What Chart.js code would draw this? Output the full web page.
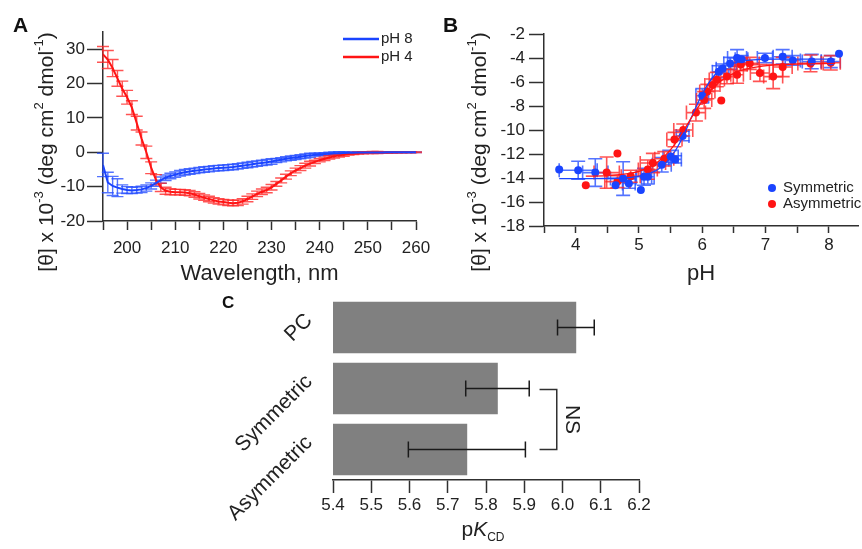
<!DOCTYPE html>
<html>
<head>
<meta charset="utf-8">
<script src="https://cdn.jsdelivr.net/npm/chart.js@4.4.1/dist/chart.umd.min.js"></script>
<style>
  body { margin: 0; background: #fff; }
  #quadro { position: relative; width: 862px; height: 549px; }
  canvas { position: absolute; }
</style>
</head>
<body>
<div id="quadro">
  <canvas id="chart-a" width="430" height="290" style="left:0;top:0"></canvas>
  <canvas id="chart-b" width="432" height="290" style="left:430px;top:0"></canvas>
  <canvas id="chart-c" width="460" height="259" style="left:200px;top:290px"></canvas>
</div>
<script>
// ---- painel A: espectros de CD ----
const comprimentos = [195,196,197,198,199,200,201,202,203,204,205,206,207,208,209,210,211,212,213,214,215,216,217,218,219,220,221,222,223,224,225,226,227,228,229,230,231,232,233,234,235,236,237,238,239,240,241,242,243,244,245,246,247,248,249,250,251,252,253,254,255,256,257,258,259,260];
const ph8 = [-3.7,-8.8,-9.8,-10.3,-10.7,-11.0,-11.1,-11.0,-10.8,-10.4,-9.8,-9.0,-8.1,-7.4,-6.9,-6.5,-6.1,-5.8,-5.6,-5.4,-5.2,-5.0,-4.9,-4.7,-4.6,-4.5,-4.4,-4.3,-4.1,-3.9,-3.7,-3.5,-3.3,-3.1,-2.9,-2.7,-2.4,-2.2,-1.9,-1.7,-1.5,-1.3,-1.1,-0.9,-0.7,-0.6,-0.5,-0.4,-0.3,-0.25,-0.2,-0.15,-0.12,-0.1,-0.08,-0.06,-0.05,-0.04,-0.03,-0.02,-0.02,-0.01,-0.01,0,0,0];
const ph8Erro = [3.4,3.0,2.8,2.6,1.2,1.0,0.9,0.9,0.9,0.9,0.9,0.9,0.9,0.8,0.8,0.8,0.8,0.8,0.8,0.8,0.8,0.8,0.8,0.8,0.8,0.8,0.8,0.8,0.8,0.8,0.8,0.8,0.8,0.8,0.8,0.8,0.6,0.6,0.6,0.6,0.6,0.6,0.6,0.6,0.4,0.4,0.4,0.4,0.4,0.4,0.4,0.2,0.2,0.2,0.2,0.2,0.2,0.2,0.1,0.1,0.1,0.1,0.1,0.1,0.1,0.1];
const ph4 = [28.5,27.0,24.5,21.5,18.5,16.0,13.0,8.5,4.0,0.0,-4.5,-8.0,-10.2,-11.2,-11.5,-11.6,-11.6,-11.7,-11.9,-12.3,-12.8,-13.2,-13.6,-14.0,-14.3,-14.5,-14.7,-14.8,-14.7,-14.3,-13.6,-12.9,-12.1,-11.5,-11.0,-10.2,-9.2,-8.2,-7.1,-6.1,-5.3,-4.6,-3.9,-3.3,-2.8,-2.3,-1.9,-1.5,-1.2,-0.9,-0.7,-0.5,-0.35,-0.25,-0.15,-0.1,-0.08,-0.06,-0.05,-0.04,-0.03,-0.02,-0.02,-0.01,0,0];
const ph4Erro = [2.3,2.6,2.5,2.3,2.2,2.0,2.0,2.0,1.9,1.8,1.7,1.5,1.2,1.0,0.9,0.8,0.8,0.8,0.8,0.8,0.8,0.8,0.8,0.8,0.8,0.8,0.8,0.8,0.8,0.8,0.8,0.8,0.8,0.8,0.8,0.8,0.7,0.7,0.7,0.7,0.7,0.7,0.7,0.7,0.5,0.5,0.5,0.5,0.5,0.5,0.5,0.3,0.3,0.3,0.3,0.3,0.3,0.3,0.1,0.1,0.1,0.1,0.1,0.1,0.1,0.1];

// ---- painel B: titulacao de pH ----
const simPH = [3.74,4.04,4.31,4.63,4.75,4.84,5.03,5.08,5.14,5.36,5.50,5.57,5.69,6.00,6.26,6.32,6.44,6.55,6.62,6.99,7.27,7.43,7.73,8.03,8.16];
const simTheta = [-13.3,-13.35,-13.55,-14.6,-14.05,-14.45,-15.0,-13.9,-13.9,-12.9,-12.2,-12.45,-10.5,-7.15,-5.15,-4.9,-4.45,-4.0,-4.1,-4.0,-3.9,-4.2,-4.3,-4.3,-3.65];
const simErroPH = [0,0.3,0.2,0,0.2,0.1,0,0.12,0.1,0.15,0.12,0.1,0.1,0.1,0.1,0.1,0.1,0.15,0.1,0.12,0.15,0.12,0.15,0.15,0];
const simErroTheta = [0,0.75,1.15,0,1.4,0.4,0,0.7,0.6,0.6,0.5,0.3,0.4,0.6,0.5,0.4,0.5,0.7,0.3,0.4,0.6,0.4,0.6,0.5,0];
const assPH = [4.16,4.49,4.66,4.66,4.87,5.14,5.22,5.40,5.56,5.70,5.90,6.03,6.08,6.16,6.23,6.30,6.39,6.55,6.61,6.75,6.91,7.12,7.27,7.71,8.03];
const assTheta = [-14.6,-13.55,-11.95,-14.3,-13.85,-13.3,-12.75,-12.4,-10.8,-10.0,-8.55,-7.5,-6.8,-6.25,-5.8,-7.55,-5.55,-5.4,-4.55,-4.45,-5.25,-5.55,-4.75,-4.45,-4.4];
const assErroPH = [0,0.2,0,0.2,0.15,0.15,0.2,0.15,0.12,0.15,0.15,0.12,0.12,0.12,0.12,0,0.1,0.1,0.1,0.15,0.15,0.15,0.15,0.2,0.15];
const assErroTheta = [0,1.3,0,0.5,0.5,0.8,0.8,0.6,0.6,0.5,0.7,0.7,0.6,0.5,0.6,0,0.6,0.7,0.5,0.5,0.7,1.0,0.8,0.7,0.6];
const ajustePHSim = [3.74,4.25,4.75,5.0,5.2,5.35,5.5,5.6,5.7,5.8,5.9,6.0,6.1,6.2,6.3,6.45,6.6,6.8,7.2,8.1];
const ajusteSim = [-14.05,-14.05,-14.0,-13.85,-13.55,-13.1,-12.3,-11.5,-10.5,-9.3,-8.1,-7.0,-6.1,-5.4,-4.9,-4.5,-4.3,-4.15,-4.1,-4.1];
const ajustePHAss = [4.16,4.5,4.8,5.0,5.2,5.4,5.55,5.7,5.85,6.0,6.15,6.3,6.45,6.6,6.8,7.1,7.5,8.1];
const ajusteAss = [-13.85,-13.8,-13.65,-13.45,-13.0,-12.2,-11.3,-10.1,-8.8,-7.6,-6.6,-5.9,-5.4,-5.05,-4.8,-4.6,-4.5,-4.45];

// ---- painel C: pKCD ----
const grupos = ["PC", "Symmetric", "Asymmetric"];
const pK = [6.035, 5.83, 5.75];
const pKErro = [0.048, 0.083, 0.153];

const FONTE = "'Liberation Sans', Arial, sans-serif";
const COR_EIXO = "#303030";
const COR_TEXTO = "#222";
const AZUL = "#1a44ff";
const VERMELHO = "#ff1414";

Chart.defaults.font.family = FONTE;
Chart.defaults.color = COR_TEXTO;

function pares(xs, ys) {
  return xs.map(function (x, i) { return { x: x, y: ys[i] }; });
}

function zeraPadding(s) {
  s.paddingTop = 0; s.paddingBottom = 0; s.paddingLeft = 0; s.paddingRight = 0;
}

// texto com partes em fontes diferentes (sobrescrito, italico...)
function escreveTrechos(ctx, trechos, x, y, angulo) {
  ctx.save();
  ctx.translate(x, y);
  ctx.rotate(angulo);
  ctx.textBaseline = "middle";
  ctx.textAlign = "left";
  ctx.fillStyle = COR_TEXTO;
  let total = 0;
  trechos.forEach(function (t) { ctx.font = t[1]; total += ctx.measureText(t[0]).width; });
  let cx = -total / 2;
  trechos.forEach(function (t) {
    ctx.font = t[1];
    ctx.fillText(t[0], cx, t[2]);
    cx += ctx.measureText(t[0]).width;
  });
  ctx.restore();
}

const tituloTheta = [
  ["[\u03B8] x 10", "21px " + FONTE, 0],
  ["-3", "13px " + FONTE, -8],
  [" (deg cm", "21px " + FONTE, 0],
  ["2", "13px " + FONTE, -8],
  [" dmol", "21px " + FONTE, 0],
  ["-1", "13px " + FONTE, -8],
  [")", "21px " + FONTE, 0]
];

function desenhaErros(chart) {
  const ctx = chart.ctx;
  ctx.save();
  chart.data.datasets.forEach(function (ds, i) {
    if (!ds.errY && !ds.errX) return;
    const meta = chart.getDatasetMeta(i);
    const sx = chart.scales[meta.xAxisID];
    const sy = chart.scales[meta.yAxisID];
    ctx.strokeStyle = ds.errCor;
    ctx.lineWidth = ds.errLargura;
    const cap = ds.errCap;
    ds.data.forEach(function (p, j) {
      let vx, vy, py;
      if (typeof p === "object") { vx = p.x; vy = p.y; py = sy.getPixelForValue(vy); }
      else { vx = p; py = sy.getPixelForValue(j); }
      const px = sx.getPixelForValue(vx);
      if (ds.errY && ds.errY[j] > 0) {
        const y1 = sy.getPixelForValue(vy - ds.errY[j]);
        const y2 = sy.getPixelForValue(vy + ds.errY[j]);
        ctx.beginPath();
        ctx.moveTo(px, y1); ctx.lineTo(px, y2);
        ctx.moveTo(px - cap, y1); ctx.lineTo(px + cap, y1);
        ctx.moveTo(px - cap, y2); ctx.lineTo(px + cap, y2);
        ctx.stroke();
      }
      if (ds.errX && ds.errX[j] > 0) {
        const x1 = sx.getPixelForValue(vx - ds.errX[j]);
        const x2 = sx.getPixelForValue(vx + ds.errX[j]);
        ctx.beginPath();
        ctx.moveTo(x1, py); ctx.lineTo(x2, py);
        ctx.moveTo(x1, py - cap); ctx.lineTo(x1, py + cap);
        ctx.moveTo(x2, py - cap); ctx.lineTo(x2, py + cap);
        ctx.stroke();
      }
    });
  });
  ctx.restore();
}

const barrasErro = {
  id: "barrasErro",
  beforeDatasetsDraw(chart, args, opts) { if (opts.antes) desenhaErros(chart); },
  afterDatasetsDraw(chart, args, opts) { if (!opts.antes) desenhaErros(chart); }
};

// tracos menores do eixo y (Chart.js so tem um tamanho de traco)
const tracosMenores = {
  id: "tracosMenores",
  afterDraw(chart, args, opts) {
    const s = chart.scales.y;
    const ctx = chart.ctx;
    ctx.save();
    ctx.strokeStyle = COR_EIXO;
    ctx.lineWidth = 1.5;
    s.ticks.forEach(function (t) {
      if (Math.abs(t.value % opts.maior) < 1e-9) return;
      const y = Math.round(s.getPixelForValue(t.value)) + 0.5;
      ctx.beginPath();
      ctx.moveTo(s.right - opts.tamanho, y);
      ctx.lineTo(s.right, y);
      ctx.stroke();
    });
    ctx.restore();
  }
};

// ---------------- A ----------------
const decoracaoA = {
  id: "decoracaoA",
  afterDraw(chart) {
    const ctx = chart.ctx;
    ctx.save();
    ctx.fillStyle = "#111";
    ctx.font = "bold 21px " + FONTE;
    ctx.textBaseline = "alphabetic";
    ctx.fillText("A", 13, 32);
    chart.data.datasets.forEach(function (ds, i) {
      const y = 39 + i * 18;
      ctx.strokeStyle = ds.borderColor;
      ctx.lineWidth = 2.5;
      ctx.beginPath(); ctx.moveTo(343, y); ctx.lineTo(379, y); ctx.stroke();
      ctx.fillStyle = COR_TEXTO;
      ctx.font = "15px " + FONTE;
      ctx.textBaseline = "middle";
      ctx.fillText(ds.label, 381, y);
    });
    ctx.restore();
    escreveTrechos(ctx, tituloTheta, 47, 152, -Math.PI / 2);
  }
};

var ctxA = document.getElementById("chart-a").getContext("2d");
var chartA = new Chart(ctxA, {
  type: "line",
  data: {
    datasets: [
      {
        label: "pH 8",
        data: pares(comprimentos, ph8),
        borderColor: AZUL,
        borderWidth: 2,
        pointRadius: 0,
        tension: 0,
        errY: ph8Erro,
        errCor: "rgba(40, 80, 255, 0.8)",
        errLargura: 1.4,
        errCap: 6,
      },
      {
        label: "pH 4",
        data: pares(comprimentos, ph4),
        borderColor: VERMELHO,
        borderWidth: 2,
        pointRadius: 0,
        tension: 0,
        errY: ph4Erro,
        errCor: "rgba(255, 40, 40, 0.8)",
        errLargura: 1.4,
        errCap: 6,
      },
    ],
  },
  options: {
    responsive: false,
    animation: false,
    layout: { padding: { left: 0, top: 32, right: 14, bottom: 0 } },
    plugins: {
      legend: { display: false },
      tooltip: { enabled: false },
      barrasErro: { antes: true },
      tracosMenores: { maior: 10, tamanho: 8 },
    },
    scales: {
      x: {
        type: "linear",
        min: 195,
        max: 260,
        border: { display: true, color: COR_EIXO, width: 1.5 },
        grid: { drawOnChartArea: false, tickLength: 9, tickWidth: 1.5, tickColor: COR_EIXO },
        ticks: {
          stepSize: 5,
          padding: 8,
          maxRotation: 0,
          autoSkip: false,
          color: COR_TEXTO,
          font: { size: 17 },
          callback: function (v) { return v % 10 === 0 ? v : ""; },
        },
        title: { display: true, text: "Wavelength, nm", color: COR_TEXTO, font: { size: 22 }, padding: { top: 0, bottom: 3 } },
        afterFit: function (s) { s.height = 69; zeraPadding(s); },
      },
      y: {
        min: -20,
        max: 35,
        border: { display: true, color: COR_EIXO, width: 1.5 },
        grid: {
          drawOnChartArea: false,
          tickLength: 16,
          tickWidth: 1.5,
          tickColor: function (c) { return c.tick && c.tick.value % 10 === 0 ? COR_EIXO : "rgba(0,0,0,0)"; },
        },
        ticks: {
          stepSize: 5,
          padding: 2,
          color: COR_TEXTO,
          font: { size: 17 },
          callback: function (v) { return v % 10 === 0 ? v : ""; },
        },
        afterFit: function (s) { s.width = 103; zeraPadding(s); },
      },
    },
  },
  plugins: [barrasErro, tracosMenores, decoracaoA],
});

// ---------------- B ----------------
const decoracaoB = {
  id: "decoracaoB",
  afterDraw(chart) {
    const ctx = chart.ctx;
    ctx.save();
    ctx.fillStyle = "#111";
    ctx.font = "bold 21px " + FONTE;
    ctx.textBaseline = "alphabetic";
    ctx.fillText("B", 13, 32);
    const itens = chart.data.datasets.filter(function (d) { return d.legenda; });
    itens.forEach(function (ds, i) {
      const y = 188 + i * 16;
      ctx.fillStyle = ds.backgroundColor;
      ctx.beginPath(); ctx.arc(342, y, 4, 0, Math.PI * 2); ctx.fill();
      ctx.fillStyle = COR_TEXTO;
      ctx.font = "15px " + FONTE;
      ctx.textBaseline = "middle";
      ctx.fillText(ds.label, 353, y);
    });
    ctx.restore();
    escreveTrechos(ctx, tituloTheta, 50, 152, -Math.PI / 2);
  }
};

var ctxB = document.getElementById("chart-b").getContext("2d");
var chartB = new Chart(ctxB, {
  type: "scatter",
  data: {
    datasets: [
      {
        type: "line",
        label: "ajuste sim",
        data: pares(ajustePHSim, ajusteSim),
        borderColor: AZUL,
        borderWidth: 1.3,
        pointRadius: 0,
        tension: 0.3,
        order: 2,
      },
      {
        type: "line",
        label: "ajuste ass",
        data: pares(ajustePHAss, ajusteAss),
        borderColor: VERMELHO,
        borderWidth: 1.3,
        pointRadius: 0,
        tension: 0.3,
        order: 1,
      },
      {
        label: "Symmetric",
        legenda: true,
        data: pares(simPH, simTheta),
        backgroundColor: AZUL,
        borderWidth: 0,
        pointRadius: 4,
        errX: simErroPH,
        errY: simErroTheta,
        errCor: "rgba(40, 80, 255, 0.8)",
        errLargura: 1.6,
        errCap: 7,
        order: 3,
      },
      {
        label: "Asymmetric",
        legenda: true,
        data: pares(assPH, assTheta),
        backgroundColor: VERMELHO,
        borderWidth: 0,
        pointRadius: 4,
        errX: assErroPH,
        errY: assErroTheta,
        errCor: "rgba(255, 40, 40, 0.8)",
        errLargura: 1.6,
        errCap: 7,
        order: 4,
      },
    ],
  },
  options: {
    responsive: false,
    animation: false,
    layout: { padding: { left: 0, top: 34, right: 0, bottom: 0 } },
    plugins: {
      legend: { display: false },
      tooltip: { enabled: false },
      barrasErro: { antes: true },
      tracosMenores: { maior: 2, tamanho: 7 },
    },
    scales: {
      x: {
        type: "linear",
        min: 3.5,
        max: 8.46,
        border: { display: true, color: COR_EIXO, width: 1.5 },
        grid: { drawOnChartArea: false, tickLength: 7, tickWidth: 1.5, tickColor: COR_EIXO },
        ticks: {
          stepSize: 0.5,
          includeBounds: false,
          padding: 2,
          maxRotation: 0,
          autoSkip: false,
          color: COR_TEXTO,
          font: { size: 17 },
          callback: function (v) { return Math.abs(v - Math.round(v)) < 1e-6 ? Math.round(v) : ""; },
        },
        title: { display: true, text: "pH", color: COR_TEXTO, font: { size: 22 }, padding: { top: 0, bottom: 3 } },
        afterFit: function (s) { s.height = 64; zeraPadding(s); },
      },
      y: {
        min: -18,
        max: -2,
        border: { display: true, color: COR_EIXO, width: 1.5 },
        grid: {
          drawOnChartArea: false,
          tickLength: 15,
          tickWidth: 1.5,
          tickColor: function (c) { return c.tick && Math.abs(c.tick.value % 2) < 1e-9 ? COR_EIXO : "rgba(0,0,0,0)"; },
        },
        ticks: {
          stepSize: 1,
          padding: 4,
          color: COR_TEXTO,
          font: { size: 17 },
          callback: function (v) { return Math.abs(v % 2) < 1e-9 ? v : ""; },
        },
        afterFit: function (s) { s.width = 114; zeraPadding(s); },
      },
    },
  },
  plugins: [barrasErro, tracosMenores, decoracaoB],
});

// ---------------- C ----------------
const decoracaoC = {
  id: "decoracaoC",
  afterDraw(chart) {
    const ctx = chart.ctx;
    const sx = chart.scales.x;
    const sy = chart.scales.y;
    ctx.save();
    ctx.fillStyle = "#111";
    ctx.font = "bold 17px " + FONTE;
    ctx.textBaseline = "alphabetic";
    ctx.fillText("C", 22, 18);
    // colchete NS entre Symmetric e Asymmetric
    const xa = sx.getPixelForValue(5.94);
    const xb = sx.getPixelForValue(5.985);
    const ya = sy.getPixelForValue(1) + 1;
    const yb = sy.getPixelForValue(2);
    ctx.strokeStyle = COR_EIXO;
    ctx.lineWidth = 1.5;
    ctx.beginPath();
    ctx.moveTo(xa, ya); ctx.lineTo(xb, ya); ctx.lineTo(xb, yb); ctx.lineTo(xa, yb);
    ctx.stroke();
    ctx.restore();
    escreveTrechos(ctx, [["NS", "21px " + FONTE, 0]], xb + 15, (ya + yb) / 2, Math.PI / 2);
    escreveTrechos(ctx, [
      ["p", "21px " + FONTE, 0],
      ["K", "italic 21px " + FONTE, 0],
      ["CD", "12px " + FONTE, 8]
    ], (chart.chartArea.left + chart.chartArea.right) / 2 - 3, 240, 0);
  }
};

var ctxC = document.getElementById("chart-c").getContext("2d");
var chartC = new Chart(ctxC, {
  type: "bar",
  data: {
    labels: grupos,
    datasets: [
      {
        label: "pKCD",
        data: pK,
        backgroundColor: "#808080",
        borderWidth: 0,
        barThickness: 51,
        errX: pKErro,
        errCor: "#1a1a1a",
        errLargura: 1.5,
        errCap: 8,
      },
    ],
  },
  options: {
    indexAxis: "y",
    responsive: false,
    animation: false,
    layout: { padding: { left: 0, top: 7, right: 21, bottom: 0 } },
    plugins: {
      legend: { display: false },
      tooltip: { enabled: false },
      barrasErro: { antes: false },
    },
    scales: {
      x: {
        type: "linear",
        min: 5.4,
        max: 6.2,
        border: { display: true, color: COR_EIXO, width: 1.5 },
        grid: { drawOnChartArea: false, tickLength: 13, tickWidth: 1.5, tickColor: COR_EIXO },
        ticks: {
          stepSize: 0.1,
          padding: 2,
          maxRotation: 0,
          autoSkip: false,
          color: COR_TEXTO,
          font: { size: 17 },
          callback: function (v) { return v.toFixed(1); },
        },
        afterFit: function (s) { s.height = 69; zeraPadding(s); },
      },
      y: {
        border: { display: false },
        grid: { display: false, drawTicks: false },
        ticks: {
          minRotation: 45,
          maxRotation: 45,
          padding: 24,
          labelOffset: -10,
          color: COR_TEXTO,
          font: { size: 21 },
        },
        afterFit: function (s) { s.width = 133; zeraPadding(s); },
      },
    },
  },
  plugins: [barrasErro, decoracaoC],
});
</script>
</body>
</html>
